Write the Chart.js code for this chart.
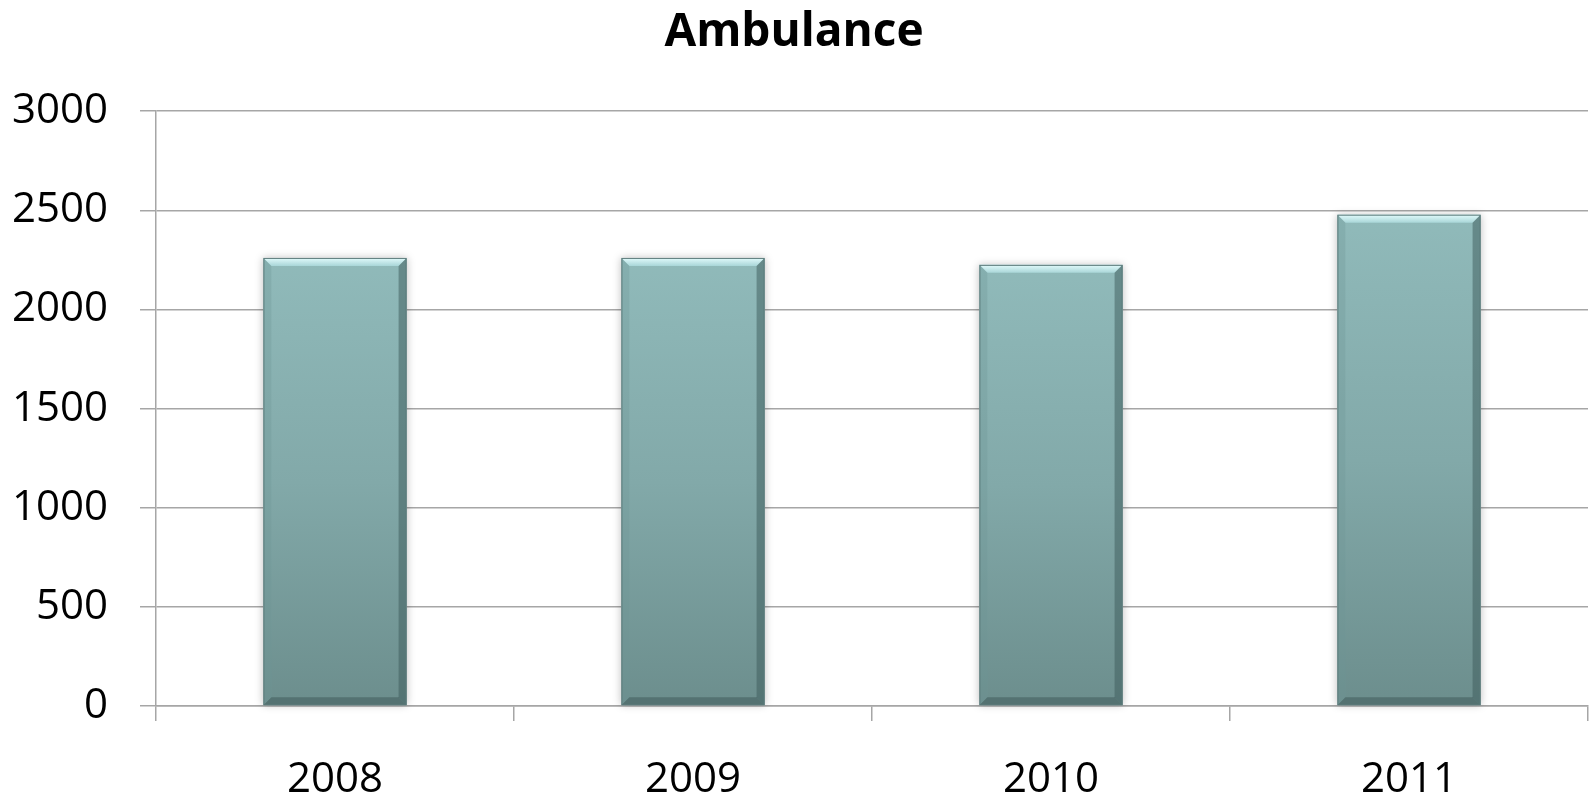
<!DOCTYPE html>
<html>
<head>
<meta charset="utf-8">
<title>Ambulance</title>
<script src="https://cdn.jsdelivr.net/npm/chart.js@4.4.1/dist/chart.umd.min.js"></script>
<style>
    html, body { margin: 0; padding: 0; background: #ffffff; }
    #wrap { width: 1591px; height: 801px; }
</style>
</head>
<body>
<div id="wrap"><canvas id="chart"></canvas></div>
<script>
const years = ['2008', '2009', '2010', '2011'];
const ambulance = [2260, 2260, 2225, 2478];
const yTicks = [0, 500, 1000, 1500, 2000, 2500, 3000];

const fontFamily = '"Open Sans", "DejaVu Sans", sans-serif';

// per-bar vertical gradient, light at the top and darker at the base
function barGradient(context) {
    const chart = context.chart;
    const yScale = chart.scales.y;
    if (!yScale || !context.parsed) return '#7fa5a5';
    const top = yScale.getPixelForValue(context.parsed.y);
    const bottom = yScale.getPixelForValue(0);
    if (!isFinite(top) || !isFinite(bottom)) return '#7fa5a5';
    const g = chart.ctx.createLinearGradient(0, top, 0, bottom);
    g.addColorStop(0, '#90baba');
    g.addColorStop(0.5, '#82a9a9');
    g.addColorStop(1, '#6c8e8d');
    return g;
}

// soft shadow plus bevel edges, drawn on the bar elements the library placed
const bevelPlugin = {
    id: 'bevel',
    beforeDatasetsDraw(chart) {
        const c = chart.ctx;
        c.save();
        chart.getDatasetMeta(0).data.forEach(bar => {
            const left = bar.x - bar.width / 2;
            const h = bar.base - bar.y;
            c.shadowColor = 'rgba(0,0,0,0.25)';
            c.shadowBlur = 8;
            c.fillStyle = '#ffffff';
            c.fillRect(left, bar.y, bar.width, h);
        });
        c.restore();
    },
    afterDatasetsDraw(chart) {
        const c = chart.ctx;
        const e = 8;
        c.save();
        chart.getDatasetMeta(0).data.forEach(bar => {
            const l = bar.x - bar.width / 2;
            const r = bar.x + bar.width / 2;
            const t = bar.y;
            const b = bar.base;
            // top highlight
            let g = c.createLinearGradient(0, t, 0, t + e);
            g.addColorStop(0, '#e2fbfc');
            g.addColorStop(1, '#a9d6d8');
            c.fillStyle = g;
            c.beginPath();
            c.moveTo(l, t); c.lineTo(r, t); c.lineTo(r - e, t + e); c.lineTo(l + e, t + e);
            c.closePath(); c.fill();
            // left edge
            c.fillStyle = 'rgba(110,150,150,0.3)';
            c.beginPath();
            c.moveTo(l, t); c.lineTo(l + e, t + e); c.lineTo(l + e, b - e); c.lineTo(l, b);
            c.closePath(); c.fill();
            // right edge
            c.fillStyle = 'rgba(60,90,90,0.5)';
            c.beginPath();
            c.moveTo(r, t); c.lineTo(r - e, t + e); c.lineTo(r - e, b - e); c.lineTo(r, b);
            c.closePath(); c.fill();
            // bottom edge
            c.fillStyle = 'rgba(60,85,85,0.5)';
            c.beginPath();
            c.moveTo(l, b); c.lineTo(l + e, b - e); c.lineTo(r - e, b - e); c.lineTo(r, b);
            c.closePath(); c.fill();
            c.strokeStyle = '#5b7a7a';
            c.lineWidth = 1;
            c.strokeRect(l + 0.5, t + 0.5, bar.width - 1, b - t - 1);
        });
        c.restore();
    }
};

new Chart(document.getElementById('chart'), {
    type: 'bar',
    data: {
        labels: years,
        datasets: [{
            label: 'Ambulance',
            data: ambulance,
            backgroundColor: barGradient,
            borderWidth: 0,
            categoryPercentage: 1.0,
            barPercentage: 0.4
        }]
    },
    options: {
        responsive: true,
        maintainAspectRatio: false,
        animation: false,
        layout: { padding: { left: 0, right: 3, top: 0, bottom: 0 } },
        plugins: {
            legend: { display: false },
            tooltip: { enabled: false },
            title: {
                display: true,
                text: 'Ambulance',
                color: '#000000',
                font: { family: fontFamily, size: 46, weight: 'bold' },
                padding: { top: 5, bottom: 51 }
            }
        },
        scales: {
            x: {
                offset: true,
                grid: {
                    offset: true,
                    drawOnChartArea: false,
                    color: '#a6a6a6',
                    lineWidth: 1.5,
                    tickLength: 15
                },
                border: { display: true, color: '#a6a6a6', width: 1.5 },
                ticks: {
                    color: '#000000',
                    font: { family: fontFamily, size: 42 },
                    padding: 34,
                    maxRotation: 0
                },
                afterFit(scale) { scale.height = 95; }
            },
            y: {
                min: 0,
                max: 3000,
                afterBuildTicks(scale) {
                    scale.ticks = yTicks.map(v => ({ value: v }));
                },
                grid: {
                    color: '#a6a6a6',
                    lineWidth: 1.5,
                    tickLength: 16
                },
                border: { display: true, color: '#a6a6a6', width: 1.5 },
                ticks: {
                    color: '#000000',
                    font: { family: fontFamily, size: 42 },
                    padding: 32,
                    callback: value => String(value)
                },
                afterFit(scale) { scale.width = 156; }
            }
        }
    },
    plugins: [bevelPlugin]
});
</script>
</body>
</html>
